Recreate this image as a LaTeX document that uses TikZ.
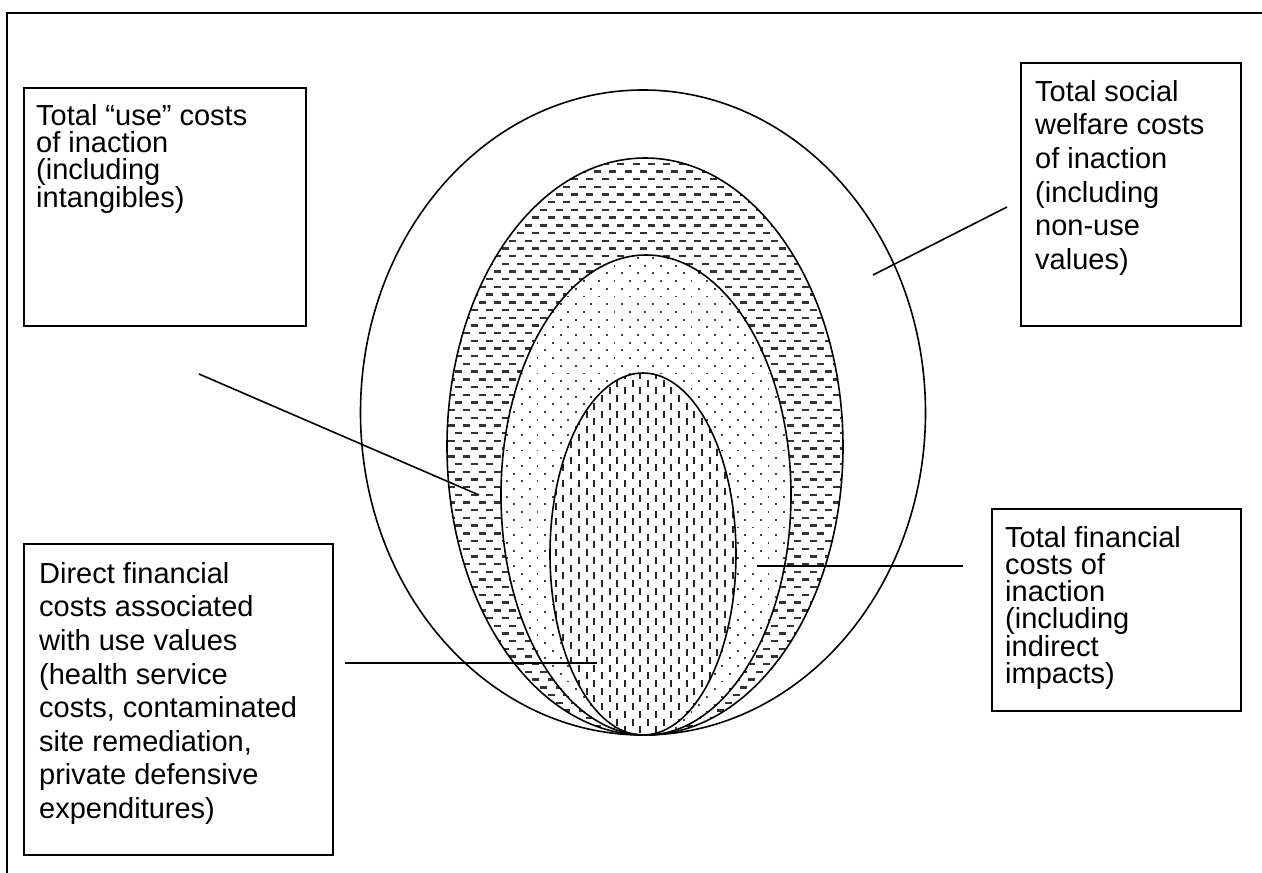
\documentclass[tikz,border=0pt]{standalone}
\usepackage{fontspec}
\setmainfont{Liberation Sans}
\usetikzlibrary{positioning}

\begin{document}
\begin{tikzpicture}[x=1pt, y=-1pt]
% Define styles
\tikzstyle{costbox} = [rectangle, draw=black, line width=1.6pt, anchor=north west, inner sep=0pt]
\tikzstyle{costtext} = [anchor=north west, align=left, inner sep=0pt, font=\fontsize{29}{33.6}\selectfont]
\tikzstyle{costtight} = [costtext, font=\fontsize{29}{27}\selectfont]
\tikzstyle{ring} = [draw=black, line width=1.6pt]
\tikzstyle{pointer} = [line width=1.6pt]
\tikzstyle{hatch} = [line width=2.4pt, draw=black!80, dash pattern=on 7pt off 8.4pt]
\tikzstyle{vhatch} = [line width=2pt, draw=black!85, dash pattern=on 7pt off 8.4pt]
\tikzstyle{dotrow} = [line width=1.9pt, draw=black!75, dash pattern=on 1.9pt off 13.5pt]

\useasboundingbox (0,0) rectangle (1262,873);
\fill[white] (0,0) rectangle (1262,873);

% Frame
\draw[line width=1.6pt] (7,873) -- (7,13) -- (1262,13);

% Ellipse centres
\coordinate (social) at (643,412.5);
\coordinate (use) at (645,446.5);
\coordinate (finance) at (646,495);
\coordinate (direct) at (643,554);

% Horizontal dashes
\begin{scope}
\clip (use) ellipse [x radius=198pt, y radius=288.5pt];
\foreach \r in {0,...,38} {
  \draw[hatch] (440,{156+\r*15.4}) -- (860,{156+\r*15.4});
  \draw[hatch] (432.3,{163.7+\r*15.4}) -- (860,{163.7+\r*15.4});
}
\end{scope}

% Dots
\fill[white] (finance) ellipse [x radius=145pt, y radius=240pt];
\begin{scope}
\clip (finance) ellipse [x radius=145pt, y radius=240pt];
\foreach \r in {0,...,32} {
  \draw[dotrow] (498,{258+\r*15.4}) -- (800,{258+\r*15.4});
  \draw[dotrow] (490.3,{265.7+\r*15.4}) -- (800,{265.7+\r*15.4});
}
\end{scope}

% Vertical dashes
\fill[white] (direct) ellipse [x radius=93pt, y radius=181pt];
\begin{scope}
\clip (direct) ellipse [x radius=93pt, y radius=181pt];
\foreach \c in {0,...,13} {
  \draw[vhatch] ({548+\c*15.4},372) -- ({548+\c*15.4},740);
  \draw[vhatch] ({555.7+\c*15.4},364.3) -- ({555.7+\c*15.4},740);
}
\end{scope}

% Outlines
\draw[ring] (social) ellipse [x radius=282.5pt, y radius=322.5pt];
\draw[ring] (use) ellipse [x radius=198pt, y radius=288.5pt];
\draw[ring] (finance) ellipse [x radius=145pt, y radius=240pt];
\draw[ring] (direct) ellipse [x radius=93pt, y radius=181pt];

% Boxes
\node (usebox) [costbox, minimum width=282pt, minimum height=238pt] at (23,87) {};
\node (usetext) [costtight] at ([xshift=13pt, yshift=-17pt]usebox.north west)
  {Total “use” costs\\of inaction\\(including\\intangibles)};

\node (socialbox) [costbox, minimum width=220pt, minimum height=263pt] at (1020,62) {};
\node (socialtext) [costtext] at ([xshift=15pt, yshift=-18pt]socialbox.north west)
  {Total social\\welfare costs\\of inaction\\(including\\non-use\\values)};

\node (financebox) [costbox, minimum width=249pt, minimum height=202pt] at (991,508) {};
\node (financetext) [costtight] at ([xshift=14pt, yshift=-18pt]financebox.north west)
  {Total financial\\costs of\\inaction\\(including\\indirect\\impacts)};

\node (directbox) [costbox, minimum width=309pt, minimum height=311pt] at (23,543) {};
\node (directtext) [costtext] at ([xshift=16pt, yshift=-19pt]directbox.north west)
  {Direct financial\\costs associated\\with use values\\(health service\\costs, contaminated\\site remediation,\\private defensive\\expenditures)};

% Pointers
\coordinate (usefrom) at (199,374);
\coordinate (useto) at (479,495);
\coordinate (socialfrom) at (1007,207);
\coordinate (socialto) at (873,275);
\coordinate (financefrom) at (963,566);
\coordinate (financeto) at (757,566);
\coordinate (directfrom) at (345,663);
\coordinate (directto) at (597,663);

\draw[pointer] (usefrom) -- (useto);
\draw[pointer] (socialfrom) -- (socialto);
\draw[pointer] (financefrom) -- (financeto);
\draw[pointer] (directfrom) -- (directto);
\end{tikzpicture}
\end{document}
